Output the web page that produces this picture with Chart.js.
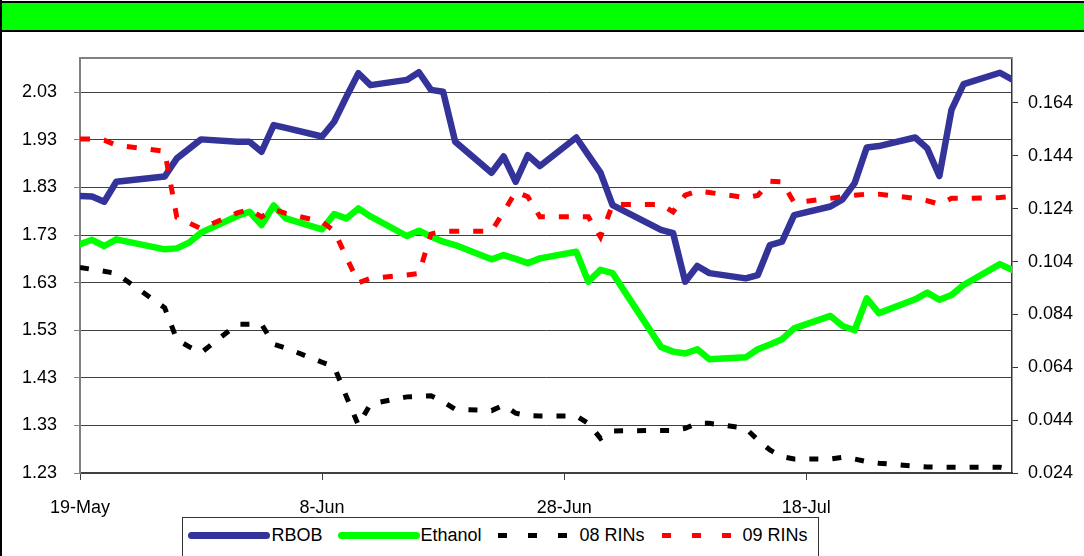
<!DOCTYPE html>
<html lang="en">
<head>
<meta charset="UTF-8">
<title>RBOB, Ethanol and RINs</title>
<style>
    body {
        margin: 0;
        background: #fff;
        font-family: "Liberation Sans", Arial, sans-serif;
    }
    #frame {
        position: relative;
        width: 1084px;
        height: 556px;
        overflow: hidden;
    }
    #topBar {
        position: absolute;
        left: 0;
        top: 1px;
        width: 1084px;
        height: 27px;
        background: #00ff00;
        border-top: 2px solid #000;
        border-bottom: 2px solid #000;
        z-index: 2;
    }
    #leftEdge {
        position: absolute;
        left: 0;
        top: 0;
        width: 2px;
        height: 556px;
        background: #000;
        z-index: 2;
    }
    #chartBox {
        position: absolute;
        left: 0;
        top: 0;
        width: 1084px;
        height: 556px;
    }
    #legend {
        position: absolute;
        left: 182px;
        top: 517px;
        width: 637px;
        height: 60px;
        border: 1.5px solid #333;
        box-sizing: border-box;
        background: #fff;
        z-index: 2;
    }
    .item {
        position: absolute;
        top: 7px;
        height: 20px;
        display: flex;
        align-items: center;
        font-size: 18px;
        color: #000;
        white-space: nowrap;
    }
    .solid {
        width: 82px;
        height: 7px;
        border-radius: 4px;
    }
    .dashed {
        width: 70px;
        height: 5px;
    }
</style>
</head>
<body>
<div id="frame">
    <div id="topBar"></div>
    <div id="leftEdge"></div>
    <div id="chartBox"><canvas id="chart"></canvas></div>
    <div id="legend">
        <div class="item" style="left:4.5px"><div class="solid" style="background:#333399"></div><span style="margin-left:2px">RBOB</span></div>
        <div class="item" style="left:154.5px"><div class="solid" style="background:#00ff00"></div><span style="margin-left:1px">Ethanol</span></div>
        <div class="item" style="left:314.5px"><div class="dashed" style="background:repeating-linear-gradient(to right,#000 0 9px,transparent 9px 30px)"></div><span style="margin-left:12px">08 RINs</span></div>
        <div class="item" style="left:478.5px"><div class="dashed" style="background:repeating-linear-gradient(to right,#ff0000 0 9px,transparent 9px 30px)"></div><span style="margin-left:11px">09 RINs</span></div>
    </div>
</div>

<script src="https://cdn.jsdelivr.net/npm/chart.js"></script>
<script>
// trading days shown on the chart
const dates = [
    '2009-05-19', '2009-05-20', '2009-05-21', '2009-05-22', '2009-05-26', '2009-05-27', '2009-05-28', '2009-05-29',
    '2009-06-01', '2009-06-02', '2009-06-03', '2009-06-04', '2009-06-05', '2009-06-08', '2009-06-09', '2009-06-10',
    '2009-06-11', '2009-06-12', '2009-06-15', '2009-06-16', '2009-06-17', '2009-06-18', '2009-06-19', '2009-06-22',
    '2009-06-23', '2009-06-24', '2009-06-25', '2009-06-26', '2009-06-29', '2009-06-30', '2009-07-01', '2009-07-02',
    '2009-07-06', '2009-07-07', '2009-07-08', '2009-07-09', '2009-07-10', '2009-07-13', '2009-07-14', '2009-07-15',
    '2009-07-16', '2009-07-17', '2009-07-20', '2009-07-21', '2009-07-22', '2009-07-23', '2009-07-24', '2009-07-27',
    '2009-07-28', '2009-07-29', '2009-07-30', '2009-07-31', '2009-08-03', '2009-08-04'
];

// $/gal, left axis
const rbob = [
    1.812, 1.811, 1.800, 1.842, 1.853, 1.891, 1.911, 1.931,
    1.926, 1.926, 1.905, 1.961, 1.955, 1.937, 1.968, 2.020,
    2.070, 2.045, 2.056, 2.072, 2.035, 2.031, 1.926, 1.861,
    1.895, 1.842, 1.898, 1.875, 1.935, 1.898, 1.861, 1.793,
    1.741, 1.734, 1.632, 1.665, 1.650, 1.639, 1.646, 1.709,
    1.716, 1.772, 1.790, 1.805, 1.839, 1.914, 1.917, 1.935,
    1.912, 1.854, 1.993, 2.047, 2.071, 2.057
];
const ethanol = [
    1.711, 1.720, 1.707, 1.721, 1.700, 1.702, 1.714, 1.735,
    1.770, 1.779, 1.751, 1.792, 1.765, 1.742, 1.774, 1.765,
    1.786, 1.769, 1.728, 1.739, 1.727, 1.716, 1.709, 1.679,
    1.688, 1.680, 1.671, 1.681, 1.695, 1.632, 1.657, 1.650,
    1.495, 1.485, 1.481, 1.490, 1.469, 1.473, 1.490, 1.500,
    1.511, 1.534, 1.560, 1.539, 1.530, 1.597, 1.566, 1.595,
    1.609, 1.594, 1.604, 1.625, 1.669, 1.657
];

// $/RIN, right axis
const rins08 = [
    0.1018, 0.1010, 0.1003, 0.0995, 0.0865, 0.0745, 0.0718, 0.0695,
    0.0803, 0.0803, 0.0803, 0.0727, 0.0713, 0.0659, 0.0642, 0.0530,
    0.0421, 0.0501, 0.0528, 0.0530, 0.0532, 0.0510, 0.0481, 0.0476,
    0.0497, 0.0466, 0.0457, 0.0456, 0.0456, 0.0428, 0.0371, 0.0399,
    0.0401, 0.0401, 0.0409, 0.0428, 0.0428, 0.0409, 0.0365, 0.0327,
    0.0302, 0.0293, 0.0293, 0.0299, 0.0293, 0.0283, 0.0277, 0.0266,
    0.0263, 0.0262, 0.0262, 0.0262, 0.0262, 0.0251
];
const rins09 = [
    0.1504, 0.1504, 0.1499, 0.1480, 0.1457, 0.1207, 0.1186, 0.1165,
    0.1224, 0.1237, 0.1209, 0.1237, 0.1222, 0.1190, 0.1156, 0.1057,
    0.0960, 0.0976, 0.0989, 0.0995, 0.1144, 0.1155, 0.1155, 0.1155,
    0.1228, 0.1304, 0.1285, 0.1209, 0.1209, 0.1209, 0.1133, 0.1256,
    0.1256, 0.1228, 0.1291, 0.1307, 0.1301, 0.1282, 0.1290, 0.1344,
    0.1341, 0.1263, 0.1279, 0.1285, 0.1291, 0.1295, 0.1295, 0.1279,
    0.1270, 0.1257, 0.1279, 0.1279, 0.1282, 0.1287
];

const leftTicks = [1.23, 1.33, 1.43, 1.53, 1.63, 1.73, 1.83, 1.93, 2.03];
const rightTicks = [0.024, 0.044, 0.064, 0.084, 0.104, 0.124, 0.144, 0.164];
const xTickDates = ['2009-05-19', '2009-06-08', '2009-06-28', '2009-07-18'];
const months = ['Jan', 'Feb', 'Mar', 'Apr', 'May', 'Jun', 'Jul', 'Aug', 'Sep', 'Oct', 'Nov', 'Dec'];

const DAY = 86400000;
const start = Date.parse(dates[0]);
const dayOf = s => (Date.parse(s) - start) / DAY;
const days = dates.map(dayOf);
const series = vals => days.map((d, i) => ({ x: d, y: vals[i] }));

function dateLabel(v) {
    const dt = new Date(start + v * DAY);
    return dt.getUTCDate() + '-' + months[dt.getUTCMonth()];
}

// gray line along the top of the plot area
const plotFrame = {
    id: 'plotFrame',
    afterDraw(chart) {
        const { ctx, chartArea: a } = chart;
        ctx.save();
        ctx.strokeStyle = '#808080';
        ctx.lineWidth = 2;
        ctx.beginPath();
        ctx.moveTo(a.left, a.top);
        ctx.lineTo(a.right, a.top);
        ctx.stroke();
        ctx.restore();
    }
};

Chart.defaults.font.family = '"Liberation Sans", Arial, sans-serif';
Chart.defaults.font.size = 18;
Chart.defaults.color = '#000';

new Chart(document.getElementById('chart'), {
    type: 'line',
    data: {
        datasets: [
            { label: 'RBOB', data: series(rbob), yAxisID: 'y', borderColor: '#333399', borderWidth: 6.5, borderJoinStyle: 'round', borderCapStyle: 'round', order: 4 },
            { label: 'Ethanol', data: series(ethanol), yAxisID: 'y', borderColor: '#00ff00', borderWidth: 6.5, borderJoinStyle: 'round', borderCapStyle: 'round', order: 3 },
            { label: '08 RINs', data: series(rins08), yAxisID: 'y1', borderColor: '#000000', borderWidth: 5, borderDash: [9, 14], order: 2 },
            { label: '09 RINs', data: series(rins09), yAxisID: 'y1', borderColor: '#ff0000', borderWidth: 5, borderDash: [10, 14], order: 1 }
        ]
    },
    options: {
        responsive: true,
        maintainAspectRatio: false,
        animation: false,
        layout: { padding: { top: 58, left: 0, right: 0, bottom: 0 } },
        elements: { point: { radius: 0 }, line: { tension: 0 } },
        plugins: { legend: { display: false }, tooltip: { enabled: false } },
        scales: {
            x: {
                type: 'linear',
                min: 0,
                max: dayOf('2009-08-04'),
                afterBuildTicks: s => { s.ticks = xTickDates.map(t => ({ value: dayOf(t) })); },
                afterFit: s => { s.height = 83; },
                ticks: { callback: v => dateLabel(v), padding: 17, maxRotation: 0 },
                grid: { drawOnChartArea: false, drawTicks: true, tickLength: 7, color: '#404040' },
                border: { color: '#404040', width: 2 }
            },
            y: {
                position: 'left',
                min: 1.23,
                max: 2.102,
                afterBuildTicks: s => { s.ticks = leftTicks.map(v => ({ value: v })); },
                afterFit: s => { s.width = 80; },
                ticks: { callback: v => v.toFixed(2), padding: 17 },
                grid: { color: '#404040', lineWidth: 1, tickLength: 6, tickColor: '#808080' },
                border: { color: '#808080', width: 2 }
            },
            y1: {
                position: 'right',
                min: 0.024,
                max: 0.181,
                afterBuildTicks: s => { s.ticks = rightTicks.map(v => ({ value: v })); },
                afterFit: s => { s.width = 72; },
                ticks: { callback: v => v.toFixed(3), padding: 10 },
                grid: { drawOnChartArea: false, tickLength: 6, color: '#333' },
                border: { color: '#333', width: 1.5 }
            }
        }
    },
    plugins: [plotFrame]
});
</script>
</body>
</html>
